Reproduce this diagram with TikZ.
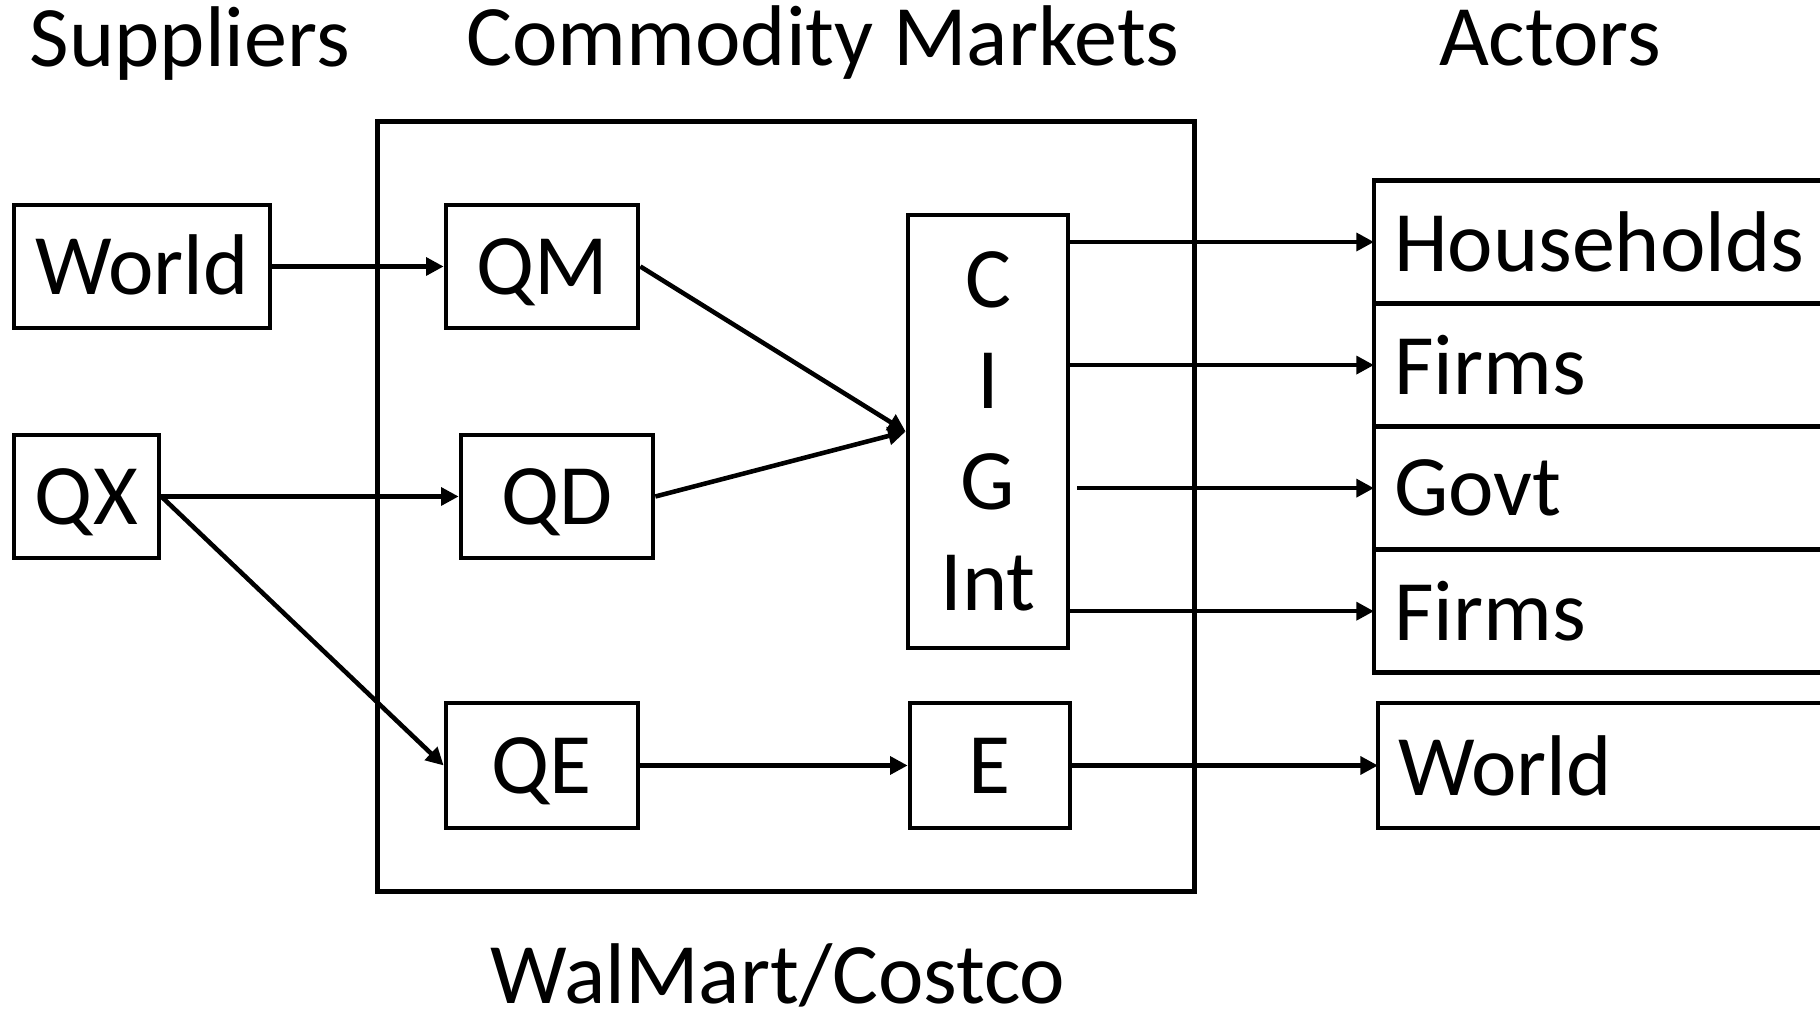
\documentclass[tikz,border=0pt]{standalone}
\usepackage{fontspec}
\setmainfont{Carlito}
\usetikzlibrary{positioning,arrows.meta}

\begin{document}
\begin{tikzpicture}[x=0.01cm,y=-0.01cm,>={Triangle[length=5pt,width=5pt]},
	line width=1.3pt,node distance=0pt]
	
	\tikzstyle{every node}=[font=\fontsize{24.5}{28.7}\selectfont]
	\tikzstyle{mbox}=[draw,inner sep=0pt,minimum height=1.23cm,text height=15.8pt,text depth=0pt]
	\tikzstyle{actor}=[draw,outer sep=0pt,anchor=west,inner xsep=0.2cm,
	text width=4.2cm,align=left,minimum height=1.23cm]
	
	\useasboundingbox (0,0) rectangle (1820,1013);
	
	% headings
	\node (suppliers) [anchor=base] at (190,67)   {Suppliers};
	\node (commodity) [anchor=base] at (823,66)   {Commodity Markets};
	\node (actors)    [anchor=base] at (1550,66)  {Actors};
	\node (walmart)   [anchor=base] at (778,1004) {WalMart/Costco};
	
	% market box
	\node (market) [draw,minimum width=8.16cm,minimum height=7.69cm] at (786,506.5) {};
	
	\node (worldS) [mbox,minimum width=2.56cm] at (142,266.5) {World};
	\node (qx)     [mbox,minimum width=1.45cm] at (86.5,496.5) {QX};
	\node (qm)     [mbox,minimum width=1.92cm] at (542,266.5) {QM};
	\node (qd)     [mbox,minimum width=1.92cm] at (557,496.5) {QD};
	\node (qe)     [mbox,minimum width=1.92cm,minimum height=1.25cm] at (542,765.5) {QE};
	\node (cig)    [draw,inner sep=0pt,minimum width=1.60cm,minimum height=4.33cm,align=center] at (988,431.5) {C\\I\\G\\Int};
	\node (exp)    [mbox,minimum width=1.60cm,minimum height=1.25cm] at (990,765.5) {E};
	
	% actors
	\node (hh)     [actor] at (1374,242) {Households};
	\node (firmsA) [actor,below=of hh]     {Firms};
	\node (govt)   [actor,below=of firmsA] {Govt};
	\node (firmsB) [actor,below=of govt]   {Firms};
	\node (worldA) [actor,minimum height=1.25cm] at (1378,765.5) {World};
	
	\path[->] (worldS) edge (qm)
	(qx) edge (qd)
	(qx.east) edge (qe.west)
	(qm.east) edge (cig.west)
	(qd.east) edge (cig.west)
	(qe) edge (exp)
	(exp) edge (exp -| worldA.west)
	(cig.east |- hh) edge (hh.west)
	(cig.east |- firmsA) edge (firmsA.west)
	(cig.east |- govt) edge [shorten <=2pt] (govt.west)
	(cig.east |- firmsB) edge (firmsB.west);
\end{tikzpicture}
\end{document}
